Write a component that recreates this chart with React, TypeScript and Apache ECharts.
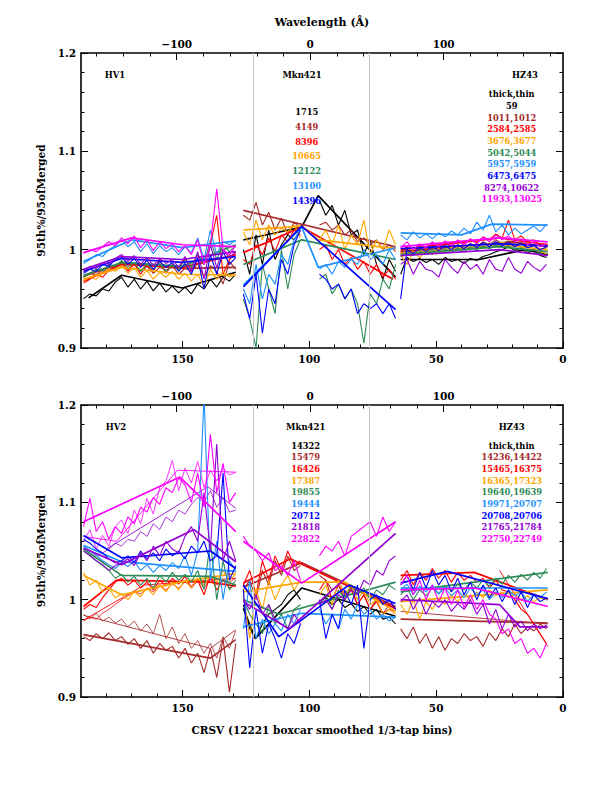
import React, { useEffect, useRef } from "react";
import * as echarts from "echarts";

const FONT = '"DejaVu Serif", serif';
const COLOR: Record<string, string> = {
  black: "#000000",
  brown: "#a52a2a",
  red: "#ff0000",
  orange: "#ffa500",
  green: "#2e8b57",
  lightblue: "#1e90ff",
  blue: "#0000ff",
  purple: "#9400d3",
  magenta: "#ff00ff",
};
const ORDER = ["black", "brown", "red", "orange", "green", "lightblue", "blue", "purple", "magenta"];

// axis ticks
const CRSV_MAJOR = [0, 50, 100, 150];
const CRSV_MINOR = [10, 20, 30, 40, 60, 70, 80, 90, 110, 120, 130, 140, 160, 170, 180];
const WL_MAJOR = [-100, 0, 100];
const WL_MINOR = [-160, -140, -120, -80, -60, -40, -20, 20, 40, 60, 80, 120, 140, 160, 180];
const Y_MAJOR = [0.9, 1.0, 1.1, 1.2];
const Y_MINOR = [0.92, 0.94, 0.96, 0.98, 1.02, 1.04, 1.06, 1.08, 1.12, 1.14, 1.16, 1.18];
const WL_MIN = -171.75;
const WL_MAX = 189.5;
const GRAY_LINES = [122, 76.5];

// sample positions (CRSV)
const HV_X = [189, 186.5, 184, 181.5, 179, 176.5, 174, 171.5, 169, 166.5, 164, 161.5, 159, 156.5, 154, 151.5, 149, 146.5, 144, 141.5, 139, 136.5, 134, 131.5, 129];
const MK_X = [126, 123.5, 121, 118.5, 116, 113.5, 111, 108.5, 106, 103.5, 101, 98.5, 96, 93.5, 91, 88.5, 86, 83.5, 81, 78.5, 76, 73.5, 71, 68.5, 66];
const HZ_X = [64, 61.5, 59, 56.5, 54, 51.5, 49, 46.5, 44, 41.5, 39, 36.5, 34, 31.5, 29, 26.5, 24, 21.5, 19, 16.5, 14, 11.5, 9, 6.5];

type Pt = [number, number];

// ===== TOP PANEL =====
const TOP_HV_NOISY: Record<string, (number | null)[]> = {
  black: [0.950, 0.955, 0.953, 0.960, 0.958, 0.967, 0.972, 0.962, 0.970, 0.960, 0.968, 0.958, 0.966, 0.957, 0.963, 0.956, 0.962, 0.955, 0.965, 0.960, 0.970, 0.962, 0.972, 0.968, 0.975],
  brown: [0.972, 0.976, 0.974, 0.980, 0.978, 0.984, 0.986, 0.980, 0.985, 0.978, 0.983, 0.976, 0.982, 0.979, 0.984, 0.975, 0.981, 0.978, 0.986, 0.972, 0.984, 0.978, 0.965, 0.988, 0.980],
  red: [0.966, 0.970, 0.975, 0.972, 0.979, 0.983, 0.988, 0.978, 0.986, 0.975, 0.984, 0.978, 0.990, 0.976, 0.985, 0.980, 0.992, 0.978, 0.990, 0.985, 1.005, 1.035, 0.975, 0.990, 0.996],
  orange: [0.968, 0.972, 0.970, 0.976, 0.980, 0.978, 0.984, 0.976, 0.982, 0.972, 0.979, 0.970, 0.977, 0.972, 0.978, 0.970, 0.976, 0.968, 0.975, 0.962, 0.980, 0.970, 0.978, 0.972, 0.975],
  green: [0.972, 0.976, 0.980, 0.978, 0.985, 0.983, 0.989, 0.982, 0.987, 0.978, 0.985, 0.980, 0.986, 0.978, 0.984, 0.980, 0.990, 0.982, 0.995, 0.985, 1.010, 0.990, 1.005, 0.998, 1.004],
  lightblue: [0.986, 0.990, 0.995, 0.993, 1.000, 1.004, 1.010, 1.003, 1.008, 0.998, 1.006, 0.996, 1.004, 0.998, 1.002, 0.995, 1.003, 0.997, 1.012, 0.990, 1.020, 0.995, 1.008, 1.005, 1.010],
  blue: [0.976, 0.980, 0.978, 0.985, 0.983, 0.990, 0.993, 0.985, 0.991, 0.982, 0.989, 0.980, 0.988, 0.982, 0.987, 0.978, 0.986, 0.975, 0.992, 0.960, 0.995, 0.975, 0.998, 0.985, 0.992],
  purple: [0.978, 0.983, 0.981, 0.987, 0.985, 0.991, 0.995, 0.988, 0.994, 0.985, 0.992, 0.984, 0.991, 0.986, 0.990, 0.982, 0.993, 0.978, 0.998, 0.970, 1.005, 0.982, 1.000, 0.992, 0.998],
  magenta: [0.996, 1.000, 0.998, 1.003, 1.008, 1.004, 1.012, 1.006, 1.014, 1.002, 1.010, 0.999, 1.008, 1.001, 1.006, 0.998, 1.004, 0.995, 1.010, 0.985, 1.005, 1.062, 1.000, 0.995, 1.004],
};
const TOP_HV_FIT: Record<string, Pt[]> = {
  black: [[187, 0.951], [174, 0.974], [150, 0.961], [129, 0.977]],
  brown: [[189, 0.973], [174, 0.986], [150, 0.981], [129, 0.982]],
  red: [[189, 0.968], [174, 0.985], [150, 0.982], [129, 0.995]],
  orange: [[189, 0.970], [174, 0.982], [150, 0.975], [129, 0.974]],
  green: [[189, 0.974], [174, 0.987], [150, 0.983], [129, 1.005]],
  lightblue: [[189, 0.988], [170, 1.010], [150, 1.002], [129, 1.009]],
  blue: [[189, 0.978], [174, 0.991], [150, 0.987], [129, 0.993]],
  purple: [[189, 0.980], [174, 0.993], [150, 0.990], [129, 0.998]],
  magenta: [[189, 0.997], [170, 1.012], [150, 1.005], [129, 1.003]],
};
const TOP_MK_NOISY: Record<string, (number | null)[]> = {
  black: [1.000, 0.975, 1.015, 0.985, 1.020, 0.990, 1.005, 1.015, 1.010, 1.020, null, null, 1.050, 1.035, 1.045, 1.025, 1.040, 1.015, 1.020, 0.995, 1.010, 0.985, 0.970, 0.990, 0.978],
  brown: [1.035, 1.030, 1.048, 1.025, 1.038, 1.020, 1.032, 1.015, 1.028, 1.022, null, null, 1.025, 1.028, 1.020, 1.025, 1.015, 1.020, 1.008, 1.012, 1.005, 1.010, 1.000, 1.005, 0.998],
  red: [0.990, 0.985, 1.005, 0.995, 1.012, 0.998, 1.015, 1.008, 1.020, 1.015, null, null, 1.000, 1.005, 0.990, 1.000, 0.985, 0.992, 0.980, 0.988, 0.975, 0.985, 0.972, 0.980, 0.970],
  orange: [1.018, 1.005, 1.030, 1.010, 1.025, 1.015, 1.022, 1.018, 1.025, 1.012, null, null, 1.010, 1.020, 1.005, 1.025, 1.000, 1.015, 1.005, 1.030, 0.995, 1.010, 1.000, 1.020, 1.005],
  green: [0.950, 0.930, 0.900, 0.985, 0.960, 0.935, 1.000, 0.960, 0.995, 1.010, null, null, 0.970, 0.975, 0.955, 0.965, 0.950, 0.960, 0.945, 0.905, 0.955, 0.945, 0.970, 0.960, 0.985],
  lightblue: [0.960, 0.945, 0.985, 0.950, 0.975, 0.965, 0.995, 0.985, 1.010, 1.020, null, null, 0.980, 0.985, 0.975, 0.988, 0.982, 0.990, 0.985, 1.000, 0.990, 0.995, 0.985, 1.000, 0.990],
  blue: [0.955, 0.930, 0.975, 0.915, 0.960, 0.945, 0.990, 0.975, 1.005, 1.020, null, null, 0.975, 0.970, 0.960, 0.965, 0.950, 0.960, 0.935, 0.945, 0.940, 0.945, 0.935, 0.945, 0.930],
};
const TOP_MK_FIT: Record<string, Pt[]> = {
  black: [[126, 1.010], [103, 1.023], [96.5, 1.055], [66, 0.972]],
  brown: [[126, 1.040], [66, 1.003]],
  red: [[126, 0.997], [103, 1.023], [67, 0.970]],
  orange: [[126, 1.020], [103, 1.024], [96.5, 1.010], [66, 1.001]],
  green: [[126, 0.985], [103, 1.010], [66, 0.990]],
  lightblue: [[126, 0.964], [103, 1.023], [96.5, 0.982], [66, 1.002]],
  blue: [[126, 0.962], [103, 1.024], [66, 0.939]],
};
const TOP_HZ_NOISY: Record<string, (number | null)[]> = {
  black: [0.975, 0.992, 0.988, 0.991, 0.987, 0.990, 0.985, 0.992, 0.988, 0.990, 0.986, 0.991, 0.989, 0.993, 0.995, 0.998, 1.000, 1.003, 0.999, 1.002, 0.996, 1.000, 0.994, 0.992],
  brown: [0.996, 1.000, 0.995, 1.002, 0.998, 1.003, 0.999, 1.004, 1.000, 1.005, 1.001, 1.006, 1.003, 1.008, 1.005, 1.010, 1.006, 1.009, 1.004, 1.007, 1.003, 1.005, 1.000, 1.002],
  red: [0.998, 1.003, 0.997, 1.004, 1.000, 1.006, 1.001, 1.007, 1.003, 1.009, 1.005, 1.011, 1.007, 1.013, 1.010, 1.016, 1.012, 1.030, 1.010, 1.014, 1.008, 1.010, 1.004, 1.006],
  orange: [0.995, 0.985, 0.998, 0.992, 0.999, 0.995, 1.001, 0.997, 1.003, 0.999, 1.005, 1.000, 1.006, 1.002, 1.007, 1.003, 1.008, 1.004, 1.006, 1.002, 1.004, 1.000, 0.998, 0.996],
  green: [0.993, 0.998, 0.994, 0.999, 0.995, 1.000, 0.996, 1.001, 0.997, 1.002, 0.998, 1.003, 1.000, 1.004, 1.001, 1.005, 1.002, 1.004, 1.000, 1.002, 0.998, 1.000, 0.996, 0.994],
  lightblue: [1.015, 1.010, 1.018, 1.012, 1.016, 1.011, 1.017, 1.013, 1.019, 1.015, 1.022, 1.016, 1.028, 1.020, 1.035, 1.018, 1.025, 1.015, 1.022, 1.016, 1.020, 1.024, 1.018, 1.026],
  blue: [0.950, 1.000, 0.996, 1.002, 0.998, 1.003, 0.999, 1.004, 1.000, 1.005, 1.001, 1.006, 1.002, 1.007, 1.003, 1.008, 1.004, 1.007, 1.003, 1.006, 1.002, 1.004, 1.000, 1.003],
  purple: [0.985, 0.990, 0.975, 0.988, 0.980, 0.978, 0.972, 0.990, 0.982, 0.976, 0.988, 0.980, 0.985, 0.975, 0.990, 0.980, 0.978, 0.992, 0.980, 0.976, 0.988, 0.982, 0.978, 0.985],
  magenta: [1.002, 1.008, 1.000, 1.006, 1.002, 1.008, 1.003, 1.009, 1.004, 1.010, 1.005, 1.011, 1.006, 1.013, 1.008, 1.015, 1.010, 1.014, 1.008, 1.011, 1.005, 1.008, 1.003, 1.006],
};
const TOP_HZ_FIT: Record<string, Pt[]> = {
  black: [[64, 0.990], [33, 0.990], [15, 1.000], [6, 0.995]],
  brown: [[64, 0.998], [20, 1.008], [6, 1.003]],
  red: [[64, 1.000], [25, 1.012], [6, 1.005]],
  orange: [[64, 0.996], [25, 1.005], [6, 1.000]],
  green: [[64, 0.995], [25, 1.003], [6, 0.998]],
  lightblue: [[64, 1.017], [40, 1.015], [28, 1.026], [6, 1.025]],
  blue: [[64, 1.001], [25, 1.006], [6, 1.004]],
  purple: [[64, 0.994], [25, 1.000], [6, 0.994]],
  magenta: [[64, 1.003], [25, 1.012], [6, 1.008]],
};

// ===== BOTTOM PANEL =====
const BOT_HV_NOISY: Record<string, (number | null)[]> = {
  brown: [0.962, 0.958, 0.965, 0.960, 0.966, 0.958, 0.962, 0.954, 0.960, 0.950, 0.958, 0.945, 0.955, 0.948, 0.952, 0.940, 0.950, 0.935, 0.945, 0.925, 0.950, 0.920, 0.960, 0.905, 0.955],
  red: [0.990, 0.995, 0.992, 1.002, 1.010, 1.018, 1.022, 1.015, 1.020, 1.012, 1.018, 1.010, 1.020, 1.014, 1.022, 1.016, 1.024, 1.012, 1.020, 1.005, 1.025, 1.010, 1.020, 1.012, 1.015],
  orange: [1.028, 1.015, 1.020, 1.008, 1.012, 1.002, 1.006, 1.000, 1.008, 1.003, 1.012, 1.005, 1.015, 1.008, 1.018, 1.010, 1.020, 1.012, 1.022, 1.015, 1.025, 1.018, 1.030, 1.020, 1.026],
  green: [1.050, 1.046, 1.040, 1.035, 1.030, 1.022, 1.026, 1.018, 1.024, 1.015, 1.022, 1.012, 1.025, 1.018, 1.028, 1.020, 1.026, 1.018, 1.030, 1.010, 1.060, 1.000, 1.040, 1.010, 1.020],
  lightblue: [1.055, 1.050, 1.046, 1.040, 1.036, 1.032, 1.038, 1.034, 1.040, 1.030, 1.036, 1.028, 1.035, 1.030, 1.038, 1.032, 1.045, 1.025, 1.050, 1.210, 1.020, 1.060, 1.000, 1.040, 1.030],
  blue: [1.062, 1.058, 1.052, 1.048, 1.042, 1.038, 1.040, 1.045, 1.038, 1.050, 1.042, 1.048, 1.040, 1.052, 1.045, 1.050, 1.042, 1.055, 1.048, 1.060, 1.040, 1.045, 1.130, 1.020, 1.035],
  purple: [1.050, 1.045, 1.040, 1.036, 1.030, 1.035, 1.038, 1.042, 1.035, 1.048, 1.040, 1.055, 1.045, 1.060, 1.052, 1.048, 1.065, 1.075, 1.060, 1.110, 1.050, 1.160, 1.040, 1.060, 1.040],
  magenta: [1.075, 1.104, 1.070, 1.080, 1.062, 1.075, 1.068, 1.085, 1.078, 1.095, 1.090, 1.105, 1.098, 1.115, 1.110, 1.125, 1.118, 1.100, 1.130, 1.095, 1.170, 1.110, 1.140, 1.100, 1.110],
};
const BOT_HV_FIT: Record<string, Pt[]> = {
  brown: [[189, 0.964], [139, 0.940], [129, 0.959]],
  red: [[189, 0.993], [176, 1.020], [139, 1.018], [129, 1.014]],
  orange: [[189, 1.025], [174, 1.005], [151, 1.018], [129, 1.027]],
  green: [[189, 1.052], [174, 1.025], [139, 1.024], [129, 1.015]],
  lightblue: [[189, 1.056], [174, 1.039], [129, 1.029]],
  blue: [[189, 1.066], [174, 1.043], [139, 1.050], [129, 1.032]],
  purple: [[189, 1.053], [174, 1.036], [145.5, 1.072], [129, 1.039]],
  magenta: [[189, 1.080], [151, 1.126], [129, 1.070]],
};
const BOT_HV_THIN_NOISY: Record<string, (number | null)[]> = {
  brown: [0.985, 0.980, 0.986, 0.978, 0.982, 0.976, 0.980, 0.972, 0.978, 0.968, 0.975, 0.965, 0.985, 0.960, 0.972, 0.955, 0.965, 0.950, 0.958, 0.945, 0.955, 0.940, 0.962, 0.950, 0.968],
  red: [0.978, 0.982, 0.980, 0.986, 0.990, 0.995, 1.000, 1.004, 1.008, 1.006, 1.012, 1.008, 1.015, 1.010, 1.016, 1.012, 1.018, 1.014, 1.020, 1.012, 1.022, 1.015, 1.020, 1.018, 1.022],
  purple: [1.052, 1.050, 1.045, 1.048, 1.052, 1.058, 1.055, 1.062, 1.060, 1.070, 1.065, 1.078, 1.072, 1.085, 1.080, 1.092, 1.088, 1.098, 1.105, 1.100, 1.112, 1.095, 1.105, 1.090, 1.092],
  magenta: [1.060, 1.072, 1.052, 1.066, 1.055, 1.075, 1.082, 1.068, 1.092, 1.078, 1.104, 1.088, 1.115, 1.122, 1.143, 1.112, 1.135, 1.120, 1.142, 1.115, 1.133, 1.122, 1.135, 1.128, 1.131],
};
const BOT_HV_THIN_FIT: Record<string, Pt[]> = {
  brown: [[189, 0.984], [139, 0.950], [129, 0.969]],
  red: [[189, 0.979], [165, 1.015], [129, 1.022]],
  purple: [[180, 1.052], [140, 1.116], [129, 1.094]],
  magenta: [[189, 1.065], [176, 1.060], [152, 1.133], [129, 1.131]],
};
const BOT_MK_NOISY: Record<string, (number | null)[]> = {
  black: [0.995, 0.970, 0.960, 0.975, 0.985, 0.990, 0.995, 1.005, 1.010, 1.000, null, null, 0.998, 1.002, 0.995, 1.000, 0.992, 0.996, 0.988, 0.993, 0.985, 0.990, 0.980, 0.982, 0.975],
  brown: [1.010, 1.020, 1.000, 1.030, 1.015, 1.040, 1.025, 1.045, 1.030, 1.035, null, null, 1.025, 1.020, 1.010, 1.015, 1.000, 1.012, 0.995, 1.005, 0.990, 1.000, 0.985, 0.995, 0.990],
  red: [1.015, 1.030, 1.005, 1.040, 1.020, 1.045, 1.030, 1.050, 1.035, 1.040, null, null, 1.010, 1.020, 1.000, 1.015, 1.005, 1.010, 0.995, 1.005, 0.990, 0.998, 0.985, 0.990, 0.988],
  orange: [1.005, 0.960, 1.010, 0.990, 1.020, 1.000, 1.015, 1.025, 1.010, 1.020, null, null, 1.005, 1.015, 0.995, 1.020, 1.005, 1.015, 1.000, 1.010, 0.995, 1.000, 0.985, 0.990, 0.985],
  green: [1.000, 0.985, 0.975, 0.965, 0.995, 0.975, 0.985, 0.970, 0.990, 0.995, null, null, 0.995, 1.005, 0.990, 1.010, 1.000, 1.015, 1.005, 1.012, 1.000, 1.010, 1.005, 1.015, 1.010],
  lightblue: [0.970, 1.020, 0.960, 0.980, 0.965, 0.975, 0.968, 0.985, 0.975, 0.990, null, null, 0.990, 0.975, 0.985, 0.970, 0.990, 0.980, 0.995, 0.985, 0.990, 0.980, 0.985, 0.978, 0.982],
  blue: [1.010, 0.930, 0.990, 0.945, 0.975, 0.960, 0.940, 0.965, 0.955, 0.975, null, null, 1.000, 0.960, 0.985, 0.970, 1.010, 0.995, 1.015, 0.950, 1.000, 1.005, 0.995, 1.000, 0.990],
  purple: [1.000, 0.990, 1.005, 0.985, 0.995, 0.980, 0.975, 0.970, 0.985, 0.975, null, null, 0.995, 1.000, 0.990, 1.005, 1.000, 1.010, 1.005, 1.020, 1.015, 1.030, 1.025, 1.040, 1.045],
  magenta: [1.065, 1.055, 1.050, 1.040, 1.048, 1.030, 1.035, 1.025, 1.040, 1.020, null, null, 1.045, 1.055, 1.050, 1.060, 1.045, 1.065, 1.070, 1.075, 1.080, 1.065, 1.085, 1.070, 1.080],
};
const BOT_MK_FIT: Record<string, Pt[]> = {
  black: [[126, 0.991], [121.3, 0.960], [103, 1.012], [66, 0.983]],
  brown: [[126, 1.013], [103, 1.038], [66, 0.993]],
  red: [[126, 1.017], [107.5, 1.042], [66, 0.991]],
  orange: [[126, 1.008], [103, 1.018], [86, 1.018], [66, 0.988]],
  green: [[126, 1.000], [112, 0.985], [66, 1.018]],
  lightblue: [[126, 0.972], [103, 0.986], [66, 0.982]],
  blue: [[126, 1.015], [112, 0.962], [84.4, 1.015], [66, 0.996]],
  purple: [[126, 0.998], [108, 0.970], [66, 1.068]],
  magenta: [[126, 1.060], [103, 1.017], [66, 1.080]],
};
const BOT_HZ_NOISY: Record<string, (number | null)[]> = {
  brown: [0.970, 0.960, 0.972, 0.955, 0.965, 0.950, 0.962, 0.948, 0.960, 0.955, 0.965, 0.958, 0.962, 0.952, 0.966, 0.958, 0.970, 0.962, 0.975, 0.965, 0.972, 0.968, 0.975, 0.970],
  red: [1.020, 1.030, 1.015, 1.028, 1.020, 1.032, 1.022, 1.030, 1.018, 1.028, 1.020, 1.025, 1.018, 1.022, 1.012, 1.020, 1.010, 1.008, 1.000, 0.990, 0.985, 0.975, 0.965, 0.955],
  orange: [0.995, 0.985, 1.000, 0.980, 0.998, 0.990, 1.002, 0.995, 1.005, 0.998, 1.006, 1.000, 1.008, 1.002, 1.010, 1.004, 1.008, 1.002, 1.006, 1.000, 1.004, 0.998, 1.002, 1.000],
  green: [1.005, 1.012, 1.000, 1.010, 1.004, 1.012, 1.006, 1.015, 1.008, 1.016, 1.010, 1.018, 1.012, 1.020, 1.014, 1.022, 1.016, 1.025, 1.018, 1.026, 1.020, 1.028, 1.022, 1.032],
  lightblue: [1.010, 1.016, 1.005, 1.014, 1.008, 1.015, 1.006, 1.012, 1.004, 1.010, 1.002, 1.012, 1.005, 1.010, 1.000, 1.008, 1.002, 1.010, 1.004, 1.008, 0.998, 1.006, 1.002, 1.008],
  blue: [1.015, 1.025, 1.010, 1.028, 1.012, 1.030, 1.015, 1.025, 1.008, 1.022, 1.005, 1.018, 1.000, 1.015, 1.002, 1.012, 0.998, 1.010, 0.995, 1.008, 0.992, 1.005, 0.998, 1.002],
  purple: [0.998, 1.005, 0.990, 1.002, 0.985, 0.998, 0.992, 1.000, 0.988, 0.996, 0.990, 1.000, 0.985, 0.995, 0.975, 0.990, 0.970, 0.985, 0.972, 0.978, 0.968, 0.975, 0.970, 0.974],
  magenta: [1.015, 1.025, 1.005, 1.020, 1.000, 1.015, 0.998, 1.012, 0.995, 1.010, 0.992, 1.005, 0.990, 1.000, 0.985, 0.980, 0.965, 0.970, 0.955, 0.960, 0.945, 0.950, 0.940, 0.955],
};
const BOT_HZ_FIT: Record<string, Pt[]> = {
  brown: [[64, 0.980], [6, 0.976]],
  red: [[64, 1.025], [35, 1.028], [6, 1.000]],
  orange: [[64, 0.998], [6, 1.010]],
  green: [[64, 1.008], [6, 1.028]],
  lightblue: [[64, 1.012], [6, 1.012]],
  blue: [[64, 1.017], [45.6, 1.029], [6, 1.001]],
  purple: [[64, 1.000], [25, 0.995], [17, 0.972], [6, 0.972]],
  magenta: [[64, 1.010], [35, 1.012], [6, 0.993]],
};
const BOT_HZ_THIN_FIT: Record<string, Pt[]> = {
  brown: [[64, 0.988], [6, 0.975]],
  red: [[25, 1.030], [6, 0.952]],
};

// ===== labels =====
const TOP_MK_LABELS = ["1715", "4149", "8396", "10665", "12122", "13100", "14396"];
const TOP_HZ_LABELS = ["59", "1011,1012", "2584,2585", "3676,3677", "5042,5044", "5957,5959", "6473,6475", "8274,10622", "11933,13025"];
const BOT_MK_LABELS = ["14322", "15479", "16426", "17387", "19855", "19444", "20712", "21818", "22822"];
const BOT_HZ_LABELS = ["14236,14422", "15465,16375", "16365,17323", "19640,19639", "19971,20707", "20708,20706", "21765,21784", "22750,22749"];
const Y_TITLE = "95th%/95ofMerged";
const X_TITLE = "CRSV (12221 boxcar smoothed 1/3-tap bins)";
const TOP_TITLE = "Wavelength (\u00c5)";

const minusFmt = (v: number) => (v < 0 ? "\u2212" + Math.abs(v) : String(v));
const yFmt = (v: number) => (Math.abs(v - 1) < 1e-9 ? "1" : Number(v).toFixed(1));

const labelStyle = { color: "#000", fontFamily: FONT, fontWeight: "bold" as const, fontSize: 10.5 };

function xAxesFor(g: number, bottomTitle: string, topTitle: string) {
  const b = { gridIndex: g, splitLine: { show: false } };
  const tick = (vals: number[], len: number) => ({ show: true, inside: true, length: len, customValues: vals, lineStyle: { color: "#000", width: 1 } });
  return [
    {
      ...b, type: "value", min: 0, max: 190, inverse: true, position: "bottom",
      axisLine: { show: true, onZero: false, lineStyle: { color: "#000", width: 1.6 } },
      axisTick: tick(CRSV_MAJOR, 7),
      axisLabel: { show: true, customValues: CRSV_MAJOR, margin: 5, ...labelStyle },
      name: bottomTitle, nameLocation: "middle", nameGap: 27,
      nameTextStyle: { color: "#000", fontFamily: FONT, fontWeight: "bold", fontSize: 10.5 },
    },
    {
      ...b, type: "value", min: 0, max: 190, inverse: true, position: "bottom",
      axisLine: { show: false, onZero: false }, axisTick: tick(CRSV_MINOR, 3.5), axisLabel: { show: false },
    },
    {
      ...b, type: "value", min: WL_MIN, max: WL_MAX, position: "top",
      axisLine: { show: true, onZero: false, lineStyle: { color: "#000", width: 1.6 } },
      axisTick: tick(WL_MAJOR, 7),
      axisLabel: { show: true, customValues: WL_MAJOR, margin: 4, formatter: minusFmt, ...labelStyle },
      name: topTitle, nameLocation: "middle", nameGap: 25,
      nameTextStyle: { color: "#000", fontFamily: FONT, fontWeight: "bold", fontSize: 11 },
    },
    {
      ...b, type: "value", min: WL_MIN, max: WL_MAX, position: "top",
      axisLine: { show: false, onZero: false }, axisTick: tick(WL_MINOR, 3.5), axisLabel: { show: false },
    },
  ];
}

function yAxesFor(g: number) {
  const b = { gridIndex: g, type: "value", min: 0.9, max: 1.2, splitLine: { show: false } };
  const tick = (vals: number[], len: number) => ({ show: true, inside: true, length: len, customValues: vals, lineStyle: { color: "#000", width: 1 } });
  return [
    {
      ...b, position: "left",
      axisLine: { show: true, onZero: false, lineStyle: { color: "#000", width: 1.6 } },
      axisTick: tick(Y_MAJOR, 7),
      axisLabel: { show: true, customValues: Y_MAJOR, margin: 5, formatter: yFmt, ...labelStyle },
      name: Y_TITLE, nameLocation: "middle", nameGap: 24,
      nameTextStyle: { color: "#000", fontFamily: FONT, fontWeight: "bold", fontSize: 10.5 },
    },
    { ...b, position: "left", axisLine: { show: false, onZero: false }, axisTick: tick(Y_MINOR, 3.5), axisLabel: { show: false } },
    {
      ...b, position: "right",
      axisLine: { show: true, onZero: false, lineStyle: { color: "#000", width: 1.6 } },
      axisTick: tick(Y_MAJOR, 7), axisLabel: { show: false },
    },
    { ...b, position: "right", axisLine: { show: false, onZero: false }, axisTick: tick(Y_MINOR, 3.5), axisLabel: { show: false } },
  ];
}

function lineSeries(data: any[], color: string, width: number, xi: number, yi: number) {
  return {
    type: "line", data, xAxisIndex: xi, yAxisIndex: yi, symbol: "none", showSymbol: false,
    lineStyle: { color, width }, itemStyle: { color }, z: 2, silent: true, connectNulls: false, clip: true,
  };
}

function addRegion(out: any[], X: number[], noisy: Record<string, (number | null)[]>, fits: Record<string, Pt[]>, xi: number, yi: number, wN: number, wF: number) {
  ORDER.forEach((c) => {
    if (noisy[c]) out.push(lineSeries(X.map((x, i) => [x, noisy[c][i]]), COLOR[c], wN, xi, yi));
    if (fits[c]) out.push(lineSeries(fits[c], COLOR[c], wF, xi, yi));
  });
}

function grayLines(xi: number, yi: number) {
  return {
    type: "line", data: [], xAxisIndex: xi, yAxisIndex: yi, z: 1, silent: true,
    markLine: {
      silent: true, symbol: ["none", "none"], label: { show: false },
      lineStyle: { color: "#c8c8c8", width: 1, type: "solid" },
      data: GRAY_LINES.map((v) => ({ xAxis: v })),
    },
  };
}

function txt(x: number, y: number, text: string, color: string, size: number) {
  return {
    type: "text", x, y, z: 100, silent: true,
    style: {
      text, fill: color, font: `bold ${size}px ${FONT}`,
      align: "center", verticalAlign: "middle", textAlign: "center", textVerticalAlign: "middle",
    },
  };
}

function buildOption() {
  const series: any[] = [];
  series.push(grayLines(0, 0));
  addRegion(series, HV_X, TOP_HV_NOISY, TOP_HV_FIT, 0, 0, 1.1, 1.7);
  addRegion(series, MK_X, TOP_MK_NOISY, TOP_MK_FIT, 0, 0, 1.1, 1.7);
  addRegion(series, HZ_X, TOP_HZ_NOISY, TOP_HZ_FIT, 0, 0, 1.1, 1.7);

  series.push(grayLines(4, 4));
  addRegion(series, HV_X, BOT_HV_THIN_NOISY, BOT_HV_THIN_FIT, 4, 4, 0.8, 0.9);
  addRegion(series, HV_X, BOT_HV_NOISY, BOT_HV_FIT, 4, 4, 1.1, 1.7);
  addRegion(series, MK_X, BOT_MK_NOISY, BOT_MK_FIT, 4, 4, 1.1, 1.7);
  addRegion(series, HZ_X, {}, BOT_HZ_THIN_FIT, 4, 4, 0.8, 0.9);
  addRegion(series, HZ_X, BOT_HZ_NOISY, BOT_HZ_FIT, 4, 4, 1.1, 1.7);

  const graphics: any[] = [];
  graphics.push(txt(115, 75, "HV1", "#000", 8.5));
  graphics.push(txt(302, 75, "Mkn421", "#000", 8.5));
  graphics.push(txt(525, 75, "HZ43", "#000", 8.5));
  TOP_MK_LABELS.forEach((t, i) => graphics.push(txt(306.7, 112.3 + i * 14.7, t, COLOR[ORDER[i]], 8.3)));
  graphics.push(txt(511.7, 94.3, "thick,thin", "#000", 8.3));
  TOP_HZ_LABELS.forEach((t, i) => graphics.push(txt(511.7, 106 + i * 11.67, t, COLOR[ORDER[i]], 8.3)));

  graphics.push(txt(116, 426.7, "HV2", "#000", 8.5));
  graphics.push(txt(305.7, 426.7, "Mkn421", "#000", 8.5));
  graphics.push(txt(511.7, 426.7, "HZ43", "#000", 8.5));
  BOT_MK_LABELS.forEach((t, i) => graphics.push(txt(305.7, 445.7 + i * 11.67, t, COLOR[ORDER[i]], 8.3)));
  graphics.push(txt(511.7, 445.7, "thick,thin", "#000", 8.3));
  BOT_HZ_LABELS.forEach((t, i) => graphics.push(txt(511.7, 457.3 + i * 11.67, t, COLOR[ORDER[i + 1]], 8.3)));

  return {
    animation: false,
    backgroundColor: "#ffffff",
    grid: [
      { left: 81, top: 53, width: 482, height: 295, containLabel: false },
      { left: 81, top: 405, width: 482, height: 292, containLabel: false },
    ],
    xAxis: [...xAxesFor(0, "", TOP_TITLE), ...xAxesFor(1, X_TITLE, "")],
    yAxis: [...yAxesFor(0), ...yAxesFor(1)],
    series,
    graphic: graphics,
  };
}

export default function App() {
  const ref = useRef<HTMLDivElement>(null);
  useEffect(() => {
    if (!ref.current) return;
    const chart = echarts.init(ref.current, null, { renderer: "svg" });
    chart.setOption(buildOption() as any);
    return () => chart.dispose();
  }, []);
  return <div ref={ref} style={{ position: "absolute", left: 0, top: 0, width: 612, height: 792, background: "#fff" }} />;
}
